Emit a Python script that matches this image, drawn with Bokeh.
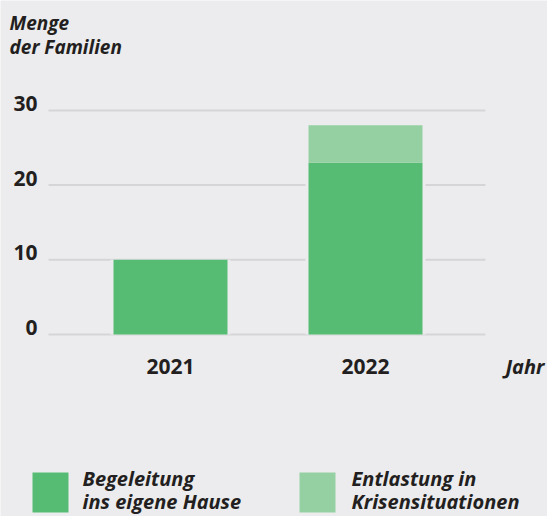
from bokeh.plotting import figure
from bokeh.models import Range1d, ColumnDataSource
from bokeh.core.properties import value
from bokeh.embed import file_html
from bokeh.resources import INLINE

# ---- data ----
years = ["2021", "2022"]
begleitung = [10, 23]
entlastung = [0, 5]
y_ticks = [0, 10, 20, 30]
y_title = ["Menge", "der Familien"]
x_title = "Jahr"
series_1 = ["Begeleitung", "ins eigene Hause"]
series_2 = ["Entlastung in", "Krisensituationen"]

# ---- style ----
BG = "#ECECEE"
GRID = "#D5D5D8"
DARK = "#57BC73"
LIGHT = "#95D0A2"
TXT = "#231F20"
FONT = "Open Sans"

W, H = 547, 516
X0, XS = 170, 195     # pixel of first category centre, pixels per category
Y0, YS = 334, 7.47    # pixel of value 0, pixels per unit
TB = 7                # baseline correction for text (pixels)


def px_x(px):
    return (px - X0) / XS


def px_y(py):
    return (Y0 - py) / YS


def txt_y(py):
    return px_y(py - TB)


p = figure(width=W, height=H, output_backend="svg", toolbar_location=None,
           x_range=Range1d(px_x(0), px_x(W)), y_range=Range1d(px_y(H), px_y(0)),
           min_border=0, background_fill_color=BG, border_fill_color=BG,
           outline_line_color=None)
p.axis.visible = False
p.grid.visible = False

xs = list(range(len(years)))
totals = [a + b for a, b in zip(begleitung, entlastung)]

# grid lines
p.segment(x0=[px_x(48)] * len(y_ticks), x1=[px_x(485)] * len(y_ticks),
          y0=y_ticks, y1=y_ticks, line_color=GRID, line_width=2)

# halo behind bars (gap in grid lines)
bar_w = 114 / XS
p.vbar(x=xs, top=totals, bottom=0, width=bar_w + 6 / XS, fill_color=BG, line_color=None)

src = ColumnDataSource(dict(x=xs, b=begleitung, e=entlastung))
p.vbar_stack(["b", "e"], x="x", width=bar_w, source=src, color=[DARK, LIGHT],
             line_color=None)

common = dict(text_font=value(FONT), text_color=TXT, text_baseline="alphabetic")

# y tick labels
p.text(x=[px_x(37)] * len(y_ticks), y=[t + TB / YS for t in y_ticks],
       text=[str(t) for t in y_ticks],
       text_align="right", text_font_size="21px", text_font_style="bold", **common)

# x tick labels
p.text(x=xs, y=[txt_y(373)] * len(xs), text=years, text_align="center",
       text_font_size="21px", text_font_style="bold", **common)

# axis titles
p.text(x=[px_x(9)] * 2, y=[txt_y(29), txt_y(53)], text=y_title, text_align="left",
       text_font_size="19px", text_font_style="bold italic", **common)
p.text(x=[px_x(505)], y=[txt_y(373)], text=[x_title], text_align="left",
       text_font_size="20px", text_font_style="bold italic", **common)

# legend
p.rect(x=[px_x(50), px_x(317)], y=[px_y(492)] * 2, width=36 / XS, height=40 / YS,
       fill_color=[DARK, LIGHT], line_color=None)
p.text(x=[px_x(82)] * 2, y=[txt_y(485), txt_y(508)], text=series_1, text_align="left",
       text_font_size="20px", text_font_style="bold italic", **common)
p.text(x=[px_x(351)] * 2, y=[txt_y(485), txt_y(508)], text=series_2, text_align="left",
       text_font_size="20px", text_font_style="bold italic", **common)

open("out.html", "w").write(file_html(p, INLINE))
